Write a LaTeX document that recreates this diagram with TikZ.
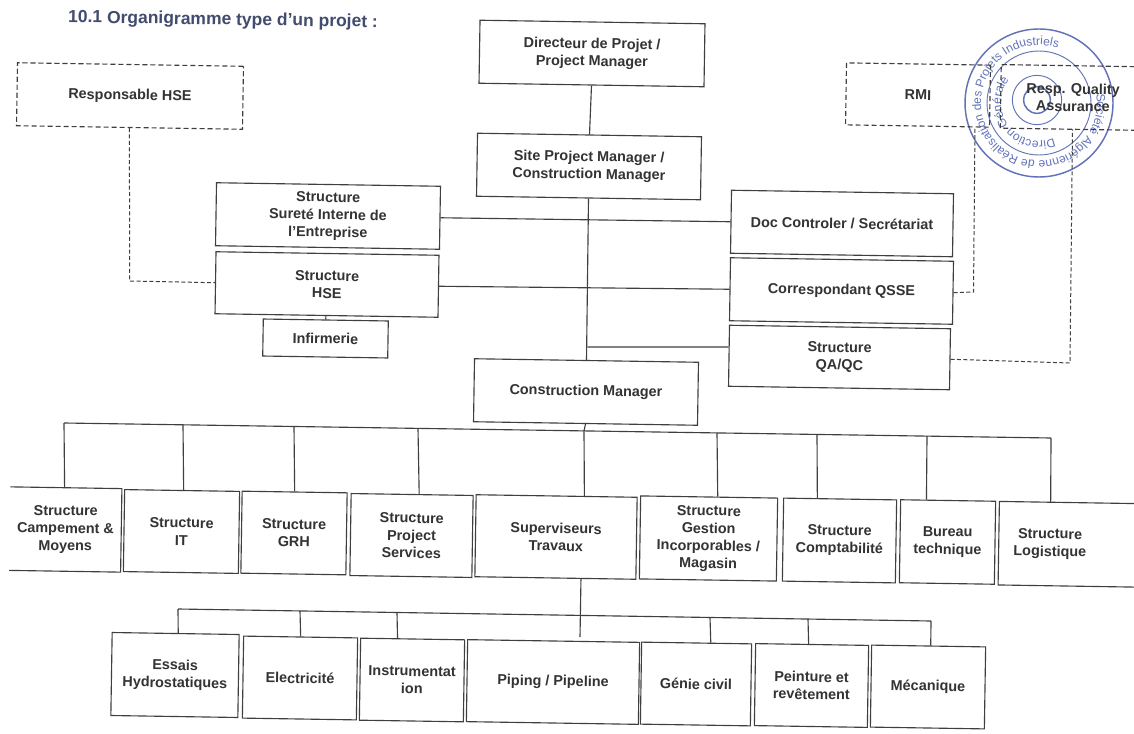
\documentclass[tikz,border=0pt]{standalone}
\usepackage{fontspec}
\setmainfont{Liberation Sans}
\usetikzlibrary{calc,decorations.text}
\definecolor{ink}{HTML}{333333}
\definecolor{edge}{HTML}{3F3F3F}
\definecolor{titleink}{HTML}{434C6E}
\definecolor{stampblue}{HTML}{6273B8}
\newcommand{\stampfont}{\fontsize{9}{9}\selectfont\color{stampblue}}
\tikzset{
  label text/.style={font=\fontsize{10.8}{13.1}\selectfont\bfseries, align=center, rotate=-0.9, text=ink, inner sep=0pt},
  boxw/.style={minimum width=#1*0.75pt},
  boxh/.style={minimum height=#1*0.75pt},
  solidbox/.style={label text, draw=edge, line width=0.85pt},
  openbox/.style={label text},
  dashbox/.style={label text, draw=edge, line width=0.85pt, dash pattern=on 3.8pt off 2.2pt},
  link/.style={draw=edge, line width=0.85pt},
  dashlink/.style={draw=edge, line width=0.75pt, dash pattern=on 3pt off 1.8pt},
  stampline/.style={draw=stampblue, line width=0.7pt}
}
\begin{document}
\begin{tikzpicture}[x=0.75pt,y=-0.75pt]
\useasboundingbox[fill=white] (0,0) rectangle (1134,734);

% stamp
\coordinate (st) at (1039,103);
\draw[stampline, line width=1.1pt] (st) circle[radius=55.5pt];
\draw[stampline] (st) circle[radius=39pt];
\draw[stampline] ($(st)+(-2,-3)$) circle[radius=18.5pt];
\draw[stampline, line width=1.1pt] ($(st)+(-2,-3)$) circle[radius=10pt];
\path[decorate,decoration={text along path,text align=center,
  text={|\stampfont|Société Algérienne de Réalisation des Projets Industriels}}]
  ($(st)+(15:43.5pt)$) arc[start angle=15,end angle=-295,radius=43.5pt];
\path[decorate,decoration={text along path,text align=center,
  text={|\stampfont|Direction Générale}}]
  ($(st)+(-60:28.5pt)$) arc[start angle=-60,end angle=-225,radius=28.5pt];

% title
\node[label text, anchor=west, font=\fontsize{13.1}{15}\selectfont\bfseries, text=titleink] (title) at (68,18) {10.1 Organigramme type d’un projet :};

% upper part
\node[solidbox, boxw=225, boxh=63] (dir) at (592,53.5) {Directeur de Projet /\\Project Manager};
\node[solidbox, boxw=224, boxh=63] (site) at (589,166.5) {Site Project Manager /\\Construction Manager};
\node[solidbox, boxw=224, boxh=63] (cm) at (586,392) {Construction Manager};
\node[solidbox, boxw=224, boxh=63] (sur) at (328,216) {Structure\\Sureté Interne de\\l’Entreprise};
\node[solidbox, boxw=223, boxh=62] (hse) at (327,284.5) {Structure\\HSE};
\node[solidbox, boxw=125, boxh=37] (inf) at (325.5,338.5) {Infirmerie};
\node[solidbox, boxw=222, boxh=63] (doc) at (842,223.5) {Doc Controler / Secrétariat};
\node[solidbox, boxw=223, boxh=63] (corr) at (841.5,291) {Correspondant QSSE};
\node[solidbox, boxw=221, boxh=61] (qa) at (839.5,357.5) {Structure\\QA/QC};
\node[dashbox, boxw=226, boxh=63] (rhse) at (130,96) {Responsable HSE};
\node[dashbox, boxw=144, boxh=62] (rmi) at (918,95) {RMI};
\node[openbox, boxw=144, boxh=63] (rqa) at (1073,97.5) {Resp. Quality\\Assurance};
\draw[draw=edge, line width=0.85pt, dash pattern=on 3.8pt off 2.2pt]
  ($(rqa.north west)!0.924!(rqa.north east)$) -- (rqa.north west) -- (rqa.south west) -- ($(rqa.south west)!0.924!(rqa.south east)$);

% first row
\node[openbox, boxw=111, boxh=83] (camp) at (65.5,529.5) {Structure\\Campement \&\\Moyens};
\node[solidbox, boxw=115, boxh=82] (it) at (181.5,531.5) {Structure\\IT};
\node[solidbox, boxw=105, boxh=82] (grh) at (294,533) {Structure\\GRH};
\node[solidbox, boxw=122, boxh=82] (ps) at (411.5,535.5) {Structure\\Project\\Services};
\node[solidbox, boxw=161, boxh=82] (sup) at (556,537) {Superviseurs\\Travaux};
\node[solidbox, boxw=137, boxh=83] (ges) at (708.5,538.5) {Structure\\Gestion\\Incorporables /\\Magasin};
\node[solidbox, boxw=113, boxh=83] (com) at (839.5,540.5) {Structure\\Comptabilité};
\node[solidbox, boxw=95, boxh=83] (bur) at (947.5,542) {Bureau\\technique};
\node[openbox, boxw=102, boxh=83] (log) at (1050,544) {Structure\\Logistique};
\draw[link] (camp.north west) -- (camp.north east) -- (camp.south east) -- (camp.south west);
\draw[link] ($(log.north west)!1.325!(log.north east)$) -- (log.north west) -- (log.south west) -- ($(log.south west)!1.325!(log.south east)$);

% second row
\node[solidbox, boxw=127, boxh=83] (ess) at (175,675) {Essais\\Hydrostatiques};
\node[solidbox, boxw=114, boxh=82] (ele) at (300,678) {Electricité};
\node[solidbox, boxw=104, boxh=82] (ins) at (412,680) {Instrumentat\\ion};
\node[solidbox, boxw=172, boxh=82] (pip) at (553,682) {Piping / Pipeline};
\node[solidbox, boxw=110, boxh=82] (gen) at (696,684) {Génie civil};
\node[solidbox, boxw=113, boxh=82] (pei) at (811.5,685.5) {Peinture et\\revêtement};
\node[solidbox, boxw=114, boxh=82] (mec) at (928,687) {Mécanique};

% spine
\draw[link] (dir.south) -- (site.north);
\draw[link] (site.south) -- (cm.north);
\draw[link] (sur.east) -- (doc.west);
\draw[link] (hse.east) -- (corr.west);
\coordinate (qaj) at (587.3,347);
\draw[link] (qaj) -- ($(qa.north west)!0.36!(qa.south west)$);
\draw[link] ($(hse.south west)!0.497!(hse.south east)$) -- ($(inf.north west)!0.5!(inf.north east)$);

% dashed links
\coordinate (hseelbow) at (129.5,281);
\draw[dashlink] (rhse.south) -- (hseelbow) -- (hse.west);
\coordinate (correlbow) at (973.5,292);
\draw[dashlink] (corr.east) -- (correlbow) -- ($(rmi.south west)!0.896!(rmi.south east)$);
\coordinate (qaelbow) at (1070,363);
\draw[dashlink] (qa.east) -- (qaelbow) -- (rqa.south);

% bus 1
\coordinate (b1a) at (64,423);
\coordinate (b1z) at (1051,438);
\draw[link] (b1a) -- (b1z);
\coordinate (b1it) at (183,424.8);
\coordinate (b1grh) at (294,426.5);
\coordinate (b1ps) at (418,428.4);
\coordinate (b1sup) at (584,430.9);
\coordinate (b1ges) at (717,432.9);
\coordinate (b1com) at (817,434.4);
\coordinate (b1bur) at (927,436.1);
\draw[link] (cm.south) -- (b1sup);
\draw[link] (b1a) -- ($(camp.north west)!0.486!(camp.north east)$);
\draw[link] (b1it) -- ($(it.north west)!0.513!(it.north east)$);
\draw[link] (b1grh) -- (grh.north);
\draw[link] (b1ps) -- ($(ps.north west)!0.557!(ps.north east)$);
\draw[link] (b1sup) -- ($(sup.north west)!0.671!(sup.north east)$);
\draw[link] (b1ges) -- ($(ges.north west)!0.562!(ges.north east)$);
\draw[link] (b1com) -- ($(com.north west)!0.30!(com.north east)$);
\draw[link] (b1bur) -- ($(bur.north west)!0.274!(bur.north east)$);
\draw[link] (b1z) -- (log.north);

% bus 2
\coordinate (b2a) at (178,609);
\coordinate (b2z) at (931,621);
\draw[link] (b2a) -- (b2z);
\coordinate (b2ele) at (300,611);
\coordinate (b2ins) at (397,612.5);
\coordinate (b2gen) at (710,617.5);
\coordinate (b2pei) at (808,619);
\coordinate (b2pip) at (580,637);
\draw[link] ($(sup.south west)!0.658!(sup.south east)$) -- (b2pip);
\draw[link] (b2a) -- ($(ess.north west)!0.52!(ess.north east)$);
\draw[link] (b2ele) -- (ele.north);
\draw[link] (b2ins) -- ($(ins.north west)!0.356!(ins.north east)$);
\draw[link] (b2gen) -- ($(gen.north west)!0.627!(gen.north east)$);
\draw[link] (b2pei) -- ($(pei.north west)!0.469!(pei.north east)$);
\draw[link] (b2z) -- ($(mec.north west)!0.518!(mec.north east)$);
\end{tikzpicture}
\end{document}
